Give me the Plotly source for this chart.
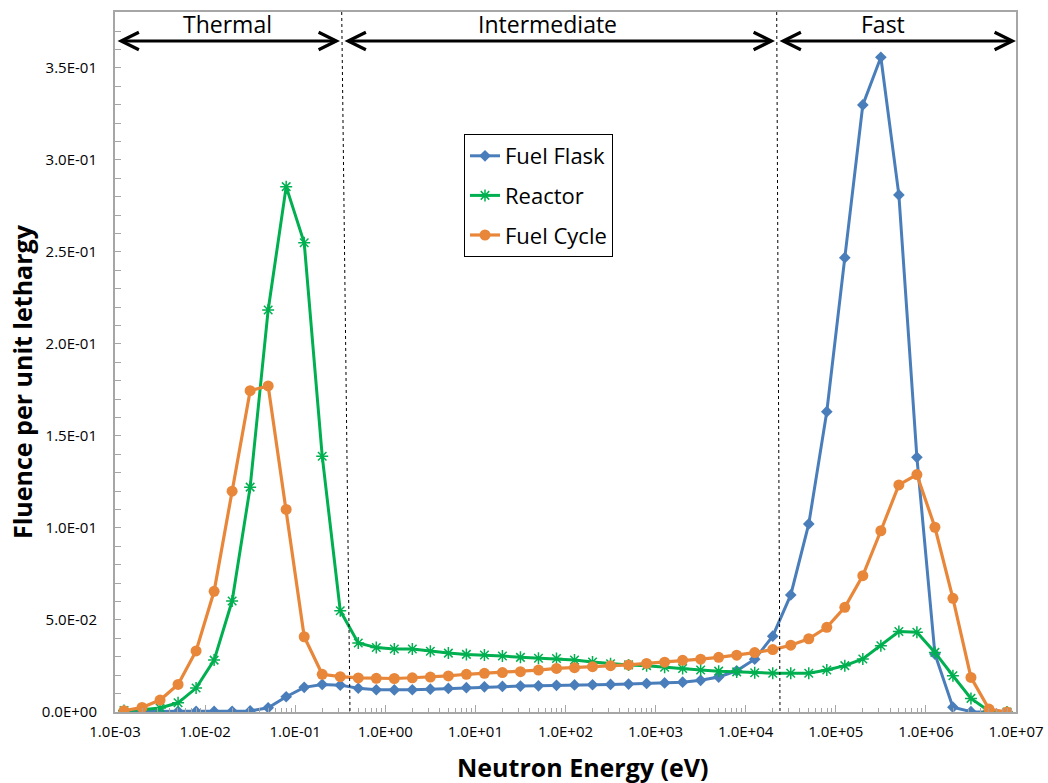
import plotly.graph_objects as go

# ---------------- data ----------------
energy_ev = [
    1.259e-3, 1.995e-3, 3.162e-3, 5.012e-3, 7.943e-3,
    1.259e-2, 1.995e-2, 3.162e-2, 5.012e-2, 7.943e-2,
    1.259e-1, 1.995e-1, 3.162e-1, 5.012e-1, 7.943e-1,
    1.259e0, 1.995e0, 3.162e0, 5.012e0, 7.943e0,
    1.259e1, 1.995e1, 3.162e1, 5.012e1, 7.943e1,
    1.259e2, 1.995e2, 3.162e2, 5.012e2, 7.943e2,
    1.259e3, 1.995e3, 3.162e3, 5.012e3, 7.943e3,
    1.259e4, 1.995e4, 3.162e4, 5.012e4, 7.943e4,
    1.259e5, 1.995e5, 3.162e5, 5.012e5, 7.943e5,
    1.259e6, 1.995e6, 3.162e6, 5.012e6, 7.943e6,
]

fuel_flask = [
    0.0003, 0.0003, 0.0003, 0.0003, 0.0003,
    0.0003, 0.0004, 0.0006, 0.0023, 0.0083,
    0.0134, 0.0150, 0.0146, 0.0129, 0.0121,
    0.0120, 0.0121, 0.0124, 0.0128, 0.0132,
    0.0137, 0.0139, 0.0141, 0.0142, 0.0145,
    0.0147, 0.0148, 0.0150, 0.0152, 0.0155,
    0.0158, 0.0162, 0.0172, 0.0190, 0.0224,
    0.0287, 0.0412, 0.0636, 0.1022, 0.1632,
    0.2469, 0.3299, 0.3558, 0.2810, 0.1384,
    0.0315, 0.0026, 0.0002, 0.0000, 0.0000,
]

reactor = [
    0.0008, 0.0012, 0.0022, 0.0050, 0.0130,
    0.0282, 0.0603, 0.1222, 0.2185, 0.2855,
    0.2550, 0.1390, 0.0550, 0.0375, 0.0350,
    0.0342, 0.0342, 0.0330, 0.0320, 0.0313,
    0.0310, 0.0304, 0.0297, 0.0292, 0.0291,
    0.0283, 0.0272, 0.0262, 0.0256, 0.0252,
    0.0243, 0.0236, 0.0228, 0.0222, 0.0218,
    0.0213, 0.0211, 0.0211, 0.0211, 0.0228,
    0.0252, 0.0288, 0.0360, 0.0437, 0.0433,
    0.0324, 0.0197, 0.0074, 0.0005, 0.0000,
]

fuel_cycle = [
    0.0007, 0.0025, 0.0065, 0.0150, 0.0332,
    0.0656, 0.1200, 0.1746, 0.1772, 0.1101,
    0.0409, 0.0205, 0.0192, 0.0185, 0.0183,
    0.0182, 0.0186, 0.0190, 0.0196, 0.0205,
    0.0210, 0.0214, 0.0219, 0.0228, 0.0237,
    0.0241, 0.0246, 0.0252, 0.0256, 0.0264,
    0.0271, 0.0281, 0.0287, 0.0297, 0.0309,
    0.0323, 0.0339, 0.0363, 0.0398, 0.0460,
    0.0569, 0.0741, 0.0985, 0.1234, 0.1290,
    0.1004, 0.0618, 0.0188, 0.0016, 0.0000,
]

x_tickvals = [1e-3, 1e-2, 1e-1, 1e0, 1e1, 1e2, 1e3, 1e4, 1e5, 1e6, 1e7]
x_ticktext = ["1.0E-03", "1.0E-02", "1.0E-01", "1.0E+00", "1.0E+01", "1.0E+02",
              "1.0E+03", "1.0E+04", "1.0E+05", "1.0E+06", "1.0E+07"]
y_tickvals = [0.0, 0.05, 0.10, 0.15, 0.20, 0.25, 0.30, 0.35]
y_ticktext = ["0.0E+00", "5.0E-02", "1.0E-01", "1.5E-01", "2.0E-01", "2.5E-01",
              "3.0E-01", "3.5E-01"]

region_labels = ["Thermal", "Intermediate", "Fast"]
x_title = "Neutron Energy (eV)"
y_title = "Fluence per unit lethargy"

# ---------------- style ----------------
FONT = "Open Sans"
BLUE = "#4A7EBB"
GREEN = "#00B050"
ORANGE = "#E8873A"
AXIS_GREY = "#A6A6A6"

W, H = 1048, 783
L, R, T, B = 115, 32, 12, 71
PW = W - L - R
PH = H - T - B


def px_x(p):
    return (p - L) / PW


def px_y(p):
    return (H - B - p) / PH


fig = go.Figure()

fig.add_trace(go.Scatter(
    x=energy_ev, y=fuel_flask, name="Fuel Flask", mode="lines+markers",
    line=dict(color=BLUE, width=3),
    marker=dict(symbol="diamond", size=9, color=BLUE),
    legendgroup="a",
))
fig.add_trace(go.Scatter(
    x=energy_ev, y=reactor, name="Reactor", mode="lines+markers",
    line=dict(color=GREEN, width=3),
    marker=dict(symbol="asterisk-open", size=10, color=GREEN,
                line=dict(color=GREEN, width=1.5)),
    legendgroup="b",
))
fig.add_trace(go.Scatter(
    x=energy_ev, y=fuel_cycle, name="Fuel Cycle", mode="lines+markers",
    line=dict(color=ORANGE, width=3.2),
    marker=dict(symbol="circle", size=11, color=ORANGE),
    legendgroup="c",
))

minor_x = [m * 10.0 ** d for d in range(-3, 7) for m in range(2, 10)]

fig.update_xaxes(
    type="log", range=[-3, 7],
    tickmode="array", tickvals=x_tickvals, ticktext=x_ticktext,
    ticks="inside", ticklen=7, tickwidth=1, tickcolor=AXIS_GREY,
    minor=dict(tickmode="array", tickvals=minor_x, ticks="inside",
               ticklen=4, tickwidth=1, tickcolor=AXIS_GREY, showgrid=False),
    showline=True, linecolor=AXIS_GREY, linewidth=2, mirror=True,
    showgrid=False, zeroline=False,
    tickfont=dict(family=FONT, size=15, color="#000000"),
    ticklabelstandoff=5,
    automargin=False,
)
fig.update_yaxes(
    range=[0, 0.3804],
    tickmode="array", tickvals=y_tickvals, ticktext=y_ticktext,
    ticks="inside", ticklen=6, tickwidth=1, tickcolor=AXIS_GREY,
    minor=dict(dtick=0.01, tick0=0, ticks="inside", ticklen=6, tickwidth=1,
               tickcolor=AXIS_GREY, showgrid=False),
    showline=True, linecolor=AXIS_GREY, linewidth=2, mirror=True,
    showgrid=False, zeroline=False,
    tickfont=dict(family=FONT, size=15, color="#000000"),
    ticklabelstandoff=13,
    automargin=False,
)

# axis titles (placed as annotations to match the reference offsets)
fig.add_annotation(
    xref="paper", yref="paper", x=px_x(583), y=px_y(767),
    text="<b>" + x_title + "</b>", showarrow=False,
    font=dict(family=FONT, size=25, color="#000000"),
    xanchor="center", yanchor="middle",
)
fig.add_annotation(
    xref="paper", yref="paper", x=px_x(22), y=px_y(382),
    text="<b>" + y_title + "</b>", showarrow=False, textangle=-90,
    font=dict(family=FONT, size=25, color="#000000"),
    xanchor="center", yanchor="middle",
)

# region boundary dotted lines
boundaries = [(341.7, 350.0), (776.7, 780.0)]
for top, bot in boundaries:
    fig.add_shape(type="line", xref="paper", yref="paper",
                  x0=px_x(top), y0=1.0, x1=px_x(bot), y1=0.0,
                  line=dict(color="#000000", width=1, dash="dot"))

# double-headed arrows and region labels
arrow_y = px_y(41)
spans = [(116, 340), (343, 775), (778, 1016)]
label_centers = [227, 547, 883]
for (a, b), lab, c in zip(spans, region_labels, label_centers):
    fig.add_annotation(
        xref="paper", yref="paper", x=px_x(b), y=arrow_y,
        ax=-(b - a), ay=0, axref="pixel", ayref="pixel",
        text="", showarrow=True, arrowhead=5, startarrowhead=5,
        arrowside="end+start", arrowsize=1.15, startarrowsize=1.15,
        arrowwidth=3, arrowcolor="#000000",
    )
    fig.add_annotation(
        xref="paper", yref="paper", x=px_x(c), y=px_y(24),
        text=lab, showarrow=False,
        font=dict(family=FONT, size=23, color="#000000"),
        xanchor="center", yanchor="middle",
    )

fig.update_layout(
    width=W, height=H,
    margin=dict(l=L, r=R, t=T, b=B, autoexpand=False),
    paper_bgcolor="#FFFFFF", plot_bgcolor="#FFFFFF",
    showlegend=True,
    legend=dict(
        x=px_x(464), y=px_y(134), xanchor="left", yanchor="top",
        bgcolor="#FFFFFF", bordercolor="#000000", borderwidth=1,
        font=dict(family=FONT, size=22, color="#000000"),
        traceorder="grouped", tracegroupgap=8, itemwidth=30,
    ),
)

fig.write_html("out.html")
